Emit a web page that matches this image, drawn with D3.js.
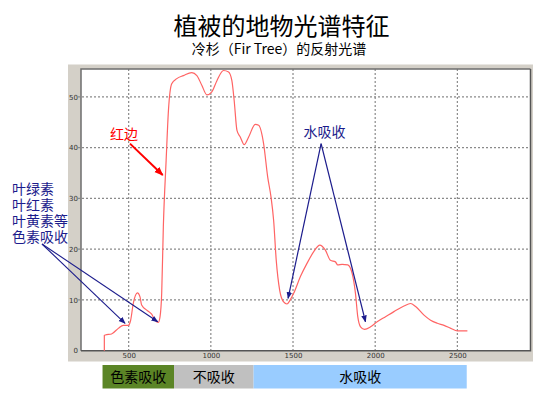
<!DOCTYPE html>
<html>
<head>
<meta charset="utf-8">
<script src="https://cdn.jsdelivr.net/npm/d3@7"></script>
<style>
  html, body { margin: 0; padding: 0; background: #fff; }
  svg { display: block; }
</style>
</head>
<body>
<svg id="chart" width="548" height="393"></svg>
<script>
// Fir tree reflectance spectrum: wavelength (nm) and reflectance (%)
const wavelength = [352, 352, 358, 396, 437, 467, 498, 512, 528, 553, 569, 579, 610, 640, 661, 681, 691,
  701, 711, 728, 742, 762, 793, 833, 884, 915, 945, 976, 1006, 1037, 1077, 1108, 1128, 1142, 1159, 1179,
  1203, 1230, 1270, 1291, 1321, 1346, 1366, 1382, 1398, 1419, 1443, 1463, 1483, 1504, 1545, 1585, 1626,
  1663, 1697, 1728, 1758, 1772, 1799, 1833, 1860, 1880, 1894, 1911, 1935, 1972, 2012, 2063, 2114, 2175,
  2215, 2246, 2297, 2337, 2378, 2419, 2460, 2500, 2561];
const reflectance = [0, 3.0, 3.1, 3.3, 4.4, 5.0, 5.0, 6.0, 9.3, 11.4, 10.6, 9.0, 8.0, 7.2, 6.0, 5.6, 6.7,
  11.3, 24.4, 37.5, 47.3, 52.6, 53.6, 54.2, 54.8, 54.2, 52.3, 50.4, 51.0, 53.2, 55.2, 54.9, 53.2, 49.3,
  43.4, 42.1, 40.6, 42.1, 44.6, 44.4, 40.8, 34.2, 30.3, 25.7, 17.8, 11.9, 9.6, 9.2, 10.0, 11.3, 14.6,
  17.2, 19.5, 20.8, 19.8, 17.8, 17.5, 16.9, 17.0, 16.9, 15.2, 11.3, 6.7, 4.7, 4.2, 4.7, 5.7, 6.7, 7.7,
  8.8, 9.3, 8.7, 7.0, 6.0, 5.4, 5.0, 4.4, 3.9, 3.9];

// Axis ticks
const xTicks = [500, 1000, 1500, 2000, 2500];
const yTicks = [0, 10, 20, 30, 40, 50];

// Spectral regions shown under the plot (start / end wavelength)
const bandLabels = ["色素吸收", "不吸收", "水吸收"];
const bandStart = [341, 776, 1260];
const bandEnd = [776, 1260, 2557];
const bandColors = ["#5b8526", "#c0c0c0", "#99ccff"];

// Annotation texts
const titleText = "植被的地物光谱特征";
const subtitleText = "冷杉（Fir Tree）的反射光谱";
const pigmentLines = ["叶绿素", "叶红素", "叶黄素等", "色素吸收"];
const redEdgeText = "红边";
const waterText = "水吸收";

// Arrow tips, in data units [wavelength, reflectance]
const pigmentTips = [[478, 5.4], [677, 5.7]];
const redEdgeFrom = [508, 40.8];
const redEdgeTip = [707, 34.6];
const waterApex = [1671, 40.8];
const waterTips = [[1470, 10.3], [1941, 5.7]];

const svg = d3.select("#chart");
const cjk = "'Noto Sans CJK SC', 'Noto Sans', sans-serif";

const plot = { left: 81, top: 69, right: 530.5, bottom: 350.7 };
const x = d3.scaleLinear().domain([210, 2945]).range([plot.left, plot.right]);
const y = d3.scaleLinear().domain([0, 55.5]).range([plot.bottom, plot.top]);

// Title block
svg.append("text").attr("x", 281.5).attr("y", 34.5).attr("text-anchor", "middle")
  .style("font-family", cjk).style("font-size", "24px").attr("fill", "#000").text(titleText);
svg.append("text").attr("x", 279).attr("y", 53.5).attr("text-anchor", "middle")
  .style("font-family", cjk).style("font-size", "14px").attr("fill", "#000").text(subtitleText);

// Window-style gray panel around the plot
svg.append("rect").attr("x", 68).attr("y", 64.5).attr("width", 465).attr("height", 297)
  .attr("fill", "#d4d0c8");
svg.append("rect").attr("x", plot.left).attr("y", plot.top)
  .attr("width", plot.right - plot.left).attr("height", plot.bottom - plot.top)
  .attr("fill", "#fff");

// Dotted grid
const grid = svg.append("g").attr("stroke", "#8a8a8a").attr("stroke-width", 1.2)
  .attr("stroke-dasharray", "2,2");
grid.selectAll("line.vx").data(xTicks).join("line").attr("class", "vx")
  .attr("x1", d => x(d)).attr("x2", d => x(d))
  .attr("y1", plot.top).attr("y2", plot.bottom + 2);
grid.selectAll("line.hy").data(yTicks.filter(d => d > 0)).join("line").attr("class", "hy")
  .attr("x1", plot.left - 3).attr("x2", plot.right)
  .attr("y1", d => y(d)).attr("y2", d => y(d));

// Sunken border
svg.append("path")
  .attr("d", `M${plot.left},${plot.bottom}V${plot.top}H${plot.right}`)
  .attr("fill", "none").attr("stroke", "#6e6e6e").attr("stroke-width", 1.5);
svg.append("path")
  .attr("d", `M${plot.left},${plot.bottom}H${plot.right}V${plot.top}`)
  .attr("fill", "none").attr("stroke", "#555").attr("stroke-width", 1.5);

// Axis tick labels via d3 axes
const yAxis = svg.append("g").attr("transform", `translate(${plot.left},0)`)
  .call(d3.axisLeft(y).tickValues(yTicks).tickFormat(d3.format("d")).tickSize(0).tickPadding(3));
const xAxis = svg.append("g").attr("transform", `translate(0,${plot.bottom})`)
  .call(d3.axisBottom(x).tickValues(xTicks).tickFormat(d3.format("d")).tickSize(0).tickPadding(2.5));
[xAxis, yAxis].forEach(a => {
  a.select(".domain").remove();
  a.selectAll("text").attr("fill", "#333").style("font-family", "'DejaVu Sans', sans-serif")
    .style("font-size", "7px");
});

// Reflectance curve
const pts = wavelength.map((w, i) => [w, reflectance[i]]);
svg.append("path").datum(pts)
  .attr("d", d3.line().x(d => x(d[0])).y(d => y(d[1])).curve(d3.curveMonotoneX))
  .attr("fill", "none").attr("stroke", "#ff6464").attr("stroke-width", 1.2);

// Spectral region bands
const bands = svg.append("g");
bandLabels.forEach((lab, i) => {
  bands.append("rect").attr("x", x(bandStart[i])).attr("y", 365)
    .attr("width", x(bandEnd[i]) - x(bandStart[i])).attr("height", 23.5)
    .attr("fill", bandColors[i]);
  bands.append("text").attr("x", (x(bandStart[i]) + x(bandEnd[i])) / 2).attr("y", 382)
    .attr("text-anchor", "middle").style("font-family", cjk).style("font-size", "14px")
    .attr("fill", "#000").text(lab);
});

// Arrowheads
const defs = svg.append("defs");
function marker(id, color, size) {
  defs.append("marker").attr("id", id).attr("viewBox", "0 0 10 10")
    .attr("refX", 9).attr("refY", 5).attr("markerWidth", size).attr("markerHeight", size)
    .attr("markerUnits", "userSpaceOnUse").attr("orient", "auto")
    .append("path").attr("d", "M0,1L10,5L0,9Z").attr("fill", color);
}
const navy = "#1c1c8c";
marker("navyHead", navy, 7);
marker("redHead", "#ff0000", 9);

// Pigment absorption annotation: one multi-line label
const pig = svg.append("text").attr("x", 12).attr("y", 194)
  .style("font-family", cjk).style("font-size", "14px").attr("fill", navy);
pig.selectAll("tspan").data(pigmentLines).join("tspan")
  .attr("x", 12).attr("dy", (d, i) => i === 0 ? 0 : 16).text(d => d);
pigmentTips.forEach(tp => {
  svg.append("line").attr("x1", 42).attr("y1", 244).attr("x2", x(tp[0])).attr("y2", y(tp[1]))
    .attr("stroke", navy).attr("stroke-width", 1.1).attr("marker-end", "url(#navyHead)");
});

// Red edge annotation
svg.append("text").attr("x", 110).attr("y", 139).style("font-family", cjk).style("font-size", "14px")
  .attr("fill", "#ff0000").text(redEdgeText);
svg.append("line").attr("x1", x(redEdgeFrom[0])).attr("y1", y(redEdgeFrom[1]))
  .attr("x2", x(redEdgeTip[0])).attr("y2", y(redEdgeTip[1]))
  .attr("stroke", "#ff0000").attr("stroke-width", 2).attr("marker-end", "url(#redHead)");

// Water absorption annotation
svg.append("text").attr("x", 324.5).attr("y", 137).attr("text-anchor", "middle")
  .style("font-family", cjk).style("font-size", "14px").attr("fill", navy).text(waterText);
waterTips.forEach(tp => {
  svg.append("line").attr("x1", x(waterApex[0])).attr("y1", y(waterApex[1]))
    .attr("x2", x(tp[0])).attr("y2", y(tp[1]))
    .attr("stroke", navy).attr("stroke-width", 1.2).attr("marker-end", "url(#navyHead)");
});
</script>
</body>
</html>
